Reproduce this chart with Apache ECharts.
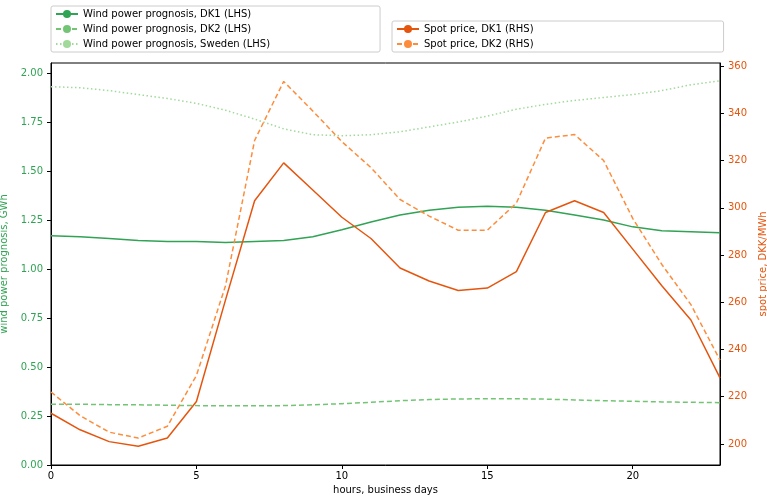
<!DOCTYPE html>
<html>
<head>
<meta charset="UTF-8">
<title>Wind power and spot prices</title>
<script src="https://cdn.jsdelivr.net/npm/echarts@6/dist/echarts.min.js"></script>
</head>
<body style="margin:0">
<div id="chart" style="width:767px;height:503px;"></div>
<script>
const hours = [0,1,2,3,4,5,6,7,8,9,10,11,12,13,14,15,16,17,18,19,20,21,22,23];
const windDK1 = [1.17,1.165,1.155,1.145,1.14,1.14,1.135,1.14,1.145,1.165,1.20,1.24,1.275,1.30,1.315,1.32,1.315,1.30,1.275,1.25,1.215,1.195,1.19,1.185];
const windDK2 = [0.31,0.31,0.308,0.307,0.305,0.303,0.302,0.302,0.303,0.307,0.313,0.32,0.328,0.334,0.337,0.338,0.338,0.336,0.332,0.328,0.325,0.322,0.32,0.318];
const windSE = [1.93,1.925,1.91,1.89,1.87,1.845,1.81,1.765,1.715,1.685,1.68,1.685,1.70,1.725,1.75,1.78,1.815,1.84,1.86,1.875,1.89,1.91,1.94,1.96];
const spotDK1 = [213,206,201,199,202.5,218,261,303,319,307.5,296,287,274.5,269,265,266,273,298,303,298,282.5,267,252.5,228];
const spotDK2 = [222,212,205,202.5,207.5,229,267,328.5,353.5,341,328,317,303.5,296.5,290.5,290.5,302,329.5,331,320,295.5,276,259,235.5];
const priceTicks = [200,220,240,260,280,300,320,340,360];

const green = ['#31a354','#74c476','#a1d99b'];
const orange = ['#e6550d','#fd8d3c'];
const pairs = arr => hours.map((h, i) => [h, arr[i]]);
const font = 'DejaVu Sans';

const chart = echarts.init(document.getElementById('chart'));
const legendBase = {
    orient: 'vertical', itemGap: 5, itemWidth: 22, itemHeight: 10,
    borderColor: '#ccc', borderWidth: 1, borderRadius: 2,
    textStyle: {fontFamily: font, fontSize: 10, color: '#000'}
};
chart.setOption({
    animation: false,
    textStyle: {fontFamily: font},
    legend: [
        Object.assign({}, legendBase, {left: 51, top: 6, padding: [3, 110, 3, 4],
            data: ['Wind power prognosis, DK1 (LHS)','Wind power prognosis, DK2 (LHS)','Wind power prognosis, Sweden (LHS)']}),
        Object.assign({}, legendBase, {left: 392, top: 21, padding: [3, 190, 3, 4],
            data: ['Spot price, DK1 (RHS)','Spot price, DK2 (RHS)']})
    ],
    grid: {left: 51, right: 47, top: 63, bottom: 38, containLabel: false, outerBoundsMode: 'none',
        show: true, borderColor: '#000', borderWidth: 1},
    xAxis: {
        type: 'value', min: 0, max: 23, interval: 5,
        name: 'hours, business days', nameLocation: 'middle', nameGap: 20,
        nameTextStyle: {fontSize: 10, color: '#000'},
        axisLine: {lineStyle: {color: '#000'}},
        axisTick: {show: true, length: 4},
        axisLabel: {fontSize: 10, color: '#000', margin: 6, showMaxLabel: false},
        splitLine: {show: false}
    },
    yAxis: [{
        type: 'value', min: 0, max: 2.051, interval: 0.25,
        name: 'wind power prognosis, GWh', nameLocation: 'middle', nameGap: 38,
        nameTextStyle: {fontSize: 10, color: green[0]},
        axisLine: {show: true, lineStyle: {color: '#000'}},
        axisTick: {show: true, length: 4},
        axisLabel: {fontSize: 10, color: green[0], showMaxLabel: false, formatter: v => v.toFixed(2)},
        splitLine: {show: false}
    }, {
        type: 'value', min: 191.1, max: 361.3, position: 'right',
        name: 'spot price, DKK/MWh', nameLocation: 'middle', nameGap: 32,
        nameTextStyle: {fontSize: 10, color: orange[0]},
        axisLine: {show: true, lineStyle: {color: '#000'}},
        axisTick: {show: true, length: 4, customValues: priceTicks},
        axisLabel: {fontSize: 10, color: orange[0], customValues: priceTicks},
        splitLine: {show: false}
    }],
    series: [
        {name: 'Wind power prognosis, DK1 (LHS)', type: 'line', data: pairs(windDK1), yAxisIndex: 0, symbol: 'none', color: green[0], lineStyle: {width: 1.5, type: 'solid'}},
        {name: 'Wind power prognosis, DK2 (LHS)', type: 'line', data: pairs(windDK2), yAxisIndex: 0, symbol: 'none', color: green[1], lineStyle: {width: 1.5, type: [5, 3]}},
        {name: 'Wind power prognosis, Sweden (LHS)', type: 'line', data: pairs(windSE), yAxisIndex: 0, symbol: 'none', color: green[2], lineStyle: {width: 1.5, type: [1.5, 2.5]}},
        {name: 'Spot price, DK1 (RHS)', type: 'line', data: pairs(spotDK1), yAxisIndex: 1, symbol: 'none', color: orange[0], lineStyle: {width: 1.5, type: 'solid'}},
        {name: 'Spot price, DK2 (RHS)', type: 'line', data: pairs(spotDK2), yAxisIndex: 1, symbol: 'none', color: orange[1], lineStyle: {width: 1.5, type: [5, 3]}}
    ]
});
</script>
</body>
</html>
